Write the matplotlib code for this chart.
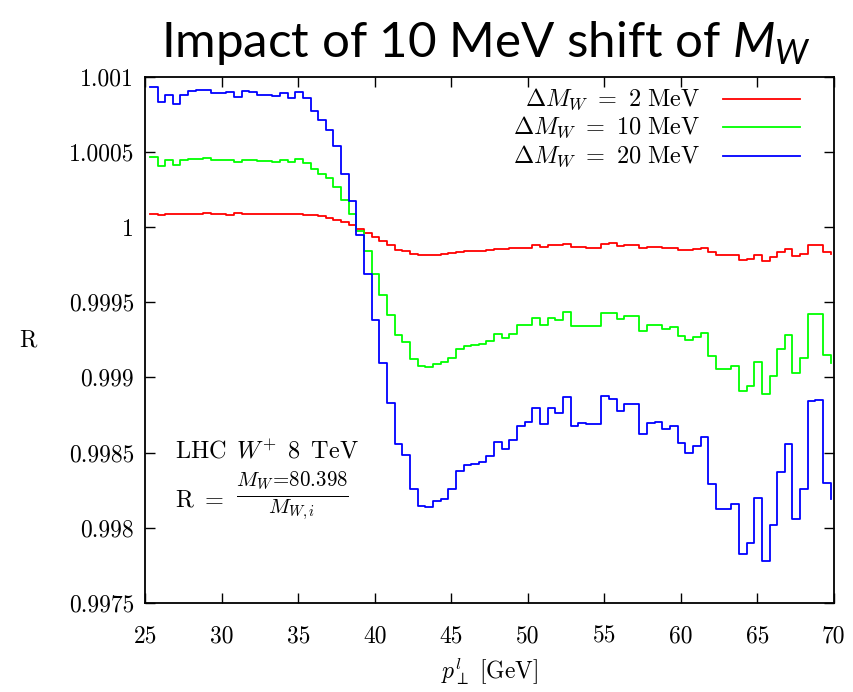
import numpy as np
import matplotlib
matplotlib.use("Agg")
import matplotlib.pyplot as plt

plt.rcParams["mathtext.fontset"] = "cm"
plt.rcParams["mathtext.rm"] = "Lato"
plt.rcParams["mathtext.it"] = "Lato:italic"
plt.rcParams["axes.formatter.use_mathtext"] = True

# lower edges of the 0.5 GeV p_T bins (last entry closes the histogram)
pt_bins = 25.3 + 0.5 * np.arange(90)

# R = M_W(80.398) / M_W,i for each shift, per p_T bin
r_2mev = [
    1.000090, 1.000081, 1.000088, 1.000084, 1.000088, 1.000084, 1.000088, 1.000092, 1.000090, 1.000086,
    1.000081, 1.000092, 1.000086, 1.000090, 1.000086, 1.000088, 1.000086, 1.000086, 1.000090, 1.000086,
    1.000079, 1.000077, 1.000072, 1.000058, 1.000050, 1.000033, 1.000015, 0.999989, 0.999961, 0.999937,
    0.999909, 0.999883, 0.999850, 0.999844, 0.999822, 0.999812, 0.999812, 0.999817, 0.999822, 0.999829,
    0.999837, 0.999839, 0.999839, 0.999844, 0.999848, 0.999851, 0.999852, 0.999859, 0.999864, 0.999863,
    0.999879, 0.999868, 0.999879, 0.999879, 0.999886, 0.999869, 0.999865, 0.999864, 0.999864, 0.999890,
    0.999891, 0.999874, 0.999881, 0.999881, 0.999860, 0.999869, 0.999869, 0.999863, 0.999862, 0.999850,
    0.999846, 0.999853, 0.999859, 0.999833, 0.999813, 0.999811, 0.999811, 0.999780, 0.999789, 0.999817,
    0.999777, 0.999802, 0.999835, 0.999855, 0.999806, 0.999824, 0.999879, 0.999879, 0.999833, 0.999824,
]
r_10mev = [
    1.000464, 1.000409, 1.000444, 1.000411, 1.000444, 1.000451, 1.000455, 1.000457, 1.000449, 1.000446,
    1.000446, 1.000435, 1.000449, 1.000444, 1.000442, 1.000440, 1.000433, 1.000444, 1.000433, 1.000451,
    1.000427, 1.000387, 1.000355, 1.000324, 1.000264, 1.000177, 1.000088, 0.999972, 0.999844, 0.999691,
    0.999545, 0.999413, 0.999281, 0.999237, 0.999122, 0.999075, 0.999068, 0.999091, 0.999102, 0.999126,
    0.999186, 0.999208, 0.999215, 0.999224, 0.999239, 0.999286, 0.999264, 0.999292, 0.999346, 0.999352,
    0.999396, 0.999346, 0.999396, 0.999385, 0.999434, 0.999339, 0.999345, 0.999340, 0.999344, 0.999430,
    0.999427, 0.999391, 0.999410, 0.999410, 0.999308, 0.999348, 0.999352, 0.999325, 0.999334, 0.999274,
    0.999247, 0.999270, 0.999297, 0.999140, 0.999058, 0.999058, 0.999074, 0.998909, 0.998945, 0.999102,
    0.998887, 0.999009, 0.999186, 0.999279, 0.999029, 0.999127, 0.999419, 0.999421, 0.999148, 0.999096,
]
r_20mev = [
    1.000932, 1.000829, 1.000880, 1.000821, 1.000880, 1.000907, 1.000912, 1.000914, 1.000889, 1.000894,
    1.000898, 1.000865, 1.000907, 1.000898, 1.000880, 1.000878, 1.000874, 1.000892, 1.000860, 1.000898,
    1.000858, 1.000774, 1.000714, 1.000643, 1.000537, 1.000353, 1.000171, 0.999944, 0.999691, 0.999385,
    0.999098, 0.998832, 0.998559, 0.998484, 0.998260, 0.998145, 0.998138, 0.998178, 0.998194, 0.998256,
    0.998377, 0.998415, 0.998422, 0.998440, 0.998477, 0.998569, 0.998522, 0.998583, 0.998676, 0.998703,
    0.998796, 0.998691, 0.998799, 0.998766, 0.998872, 0.998679, 0.998697, 0.998689, 0.998689, 0.998874,
    0.998856, 0.998775, 0.998825, 0.998825, 0.998621, 0.998699, 0.998705, 0.998654, 0.998675, 0.998564,
    0.998495, 0.998544, 0.998604, 0.998289, 0.998123, 0.998123, 0.998160, 0.997826, 0.997898, 0.998201,
    0.997779, 0.998017, 0.998371, 0.998555, 0.998056, 0.998256, 0.998840, 0.998849, 0.998295, 0.998194,
]

series = [
    (r_2mev, "#ff0000", r"$\Delta M_W\ =\ 2\ \mathrm{MeV}$"),
    (r_10mev, "#00ff00", r"$\Delta M_W\ =\ 10\ \mathrm{MeV}$"),
    (r_20mev, "#0000ff", r"$\Delta M_W\ =\ 20\ \mathrm{MeV}$"),
]

x_ticks = [25, 30, 35, 40, 45, 50, 55, 60, 65, 70]
y_ticks = [0.9975, 0.998, 0.9985, 0.999, 0.9995, 1.0, 1.0005, 1.001]
y_tick_labels = ["0.9975", "0.998", "0.9985", "0.999", "0.9995", "1", "1.0005", "1.001"]

fig = plt.figure(figsize=(8.54, 6.92), dpi=100)
ax = fig.add_axes([0.1701, 0.1286, 0.8062, 0.7606])

for values, color, label in series:
    ax.plot(pt_bins, values, drawstyle="steps-post", color=color, lw=1.3)

ax.set_xlim(25, 70)
ax.set_ylim(0.9975, 1.001)
ax.set_xticks(x_ticks)
ax.set_xticklabels([str(v) for v in x_ticks], fontfamily="cmr10", fontsize=17)
ax.set_yticks(y_ticks)
ax.set_yticklabels(y_tick_labels, fontfamily="cmr10", fontsize=17)
ax.tick_params(direction="in", length=7, width=1.0, top=True, right=True)
ax.tick_params(axis="x", pad=16)
ax.tick_params(axis="y", pad=8)
for sp in ax.spines.values():
    sp.set_linewidth(1.3)

ax.set_xlabel(r"$p_{\perp}^{l}\ [\mathrm{GeV}]$", fontsize=17, labelpad=6)
ax.set_ylabel(r"$\mathrm{R}$", fontsize=17, rotation=0, ha="center", va="center")
ax.yaxis.set_label_coords(-0.170, 0.5)

# key: text right-aligned, sample line to its right
for i, (values, color, label) in enumerate(series):
    yk = 0.9576 - 0.0541 * i
    ax.plot([0.839, 0.951], [yk, yk], color=color, lw=1.3, transform=ax.transAxes)
    ax.text(0.806, yk, label, ha="right", va="center", fontsize=17.5, transform=ax.transAxes)

ax.text(0.043, 0.287, r"$\mathrm{LHC}\ \,W^{+}\ \,8\ \,\mathrm{TeV}$", fontsize=17.5,
        ha="left", va="center", transform=ax.transAxes)
ax.text(0.043, 0.196, r"$\mathrm{R}\ =$", fontsize=17.5,
        ha="left", va="center", transform=ax.transAxes)
ax.text(0.132, 0.203, r"$\frac{M_W\!=\!80.398}{M_{W,i}}$", fontsize=21.5,
        ha="left", va="center", transform=ax.transAxes)

fig.text(485.5 / 854, 1 - 57 / 692, r"Impact of 10 MeV shift of $M_W$",
         ha="center", va="baseline", fontsize=35.5, family="Lato", math_fontfamily="custom")

fig.savefig("out.png", dpi=100)
